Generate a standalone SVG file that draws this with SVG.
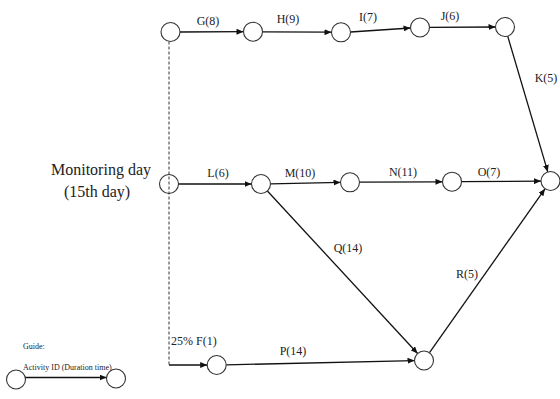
<svg xmlns="http://www.w3.org/2000/svg" width="560" height="399" viewBox="0 0 560 399">
<style>
.n{fill:#fff;stroke:#333;stroke-width:1.1}
.e{stroke:#111;stroke-width:1.3;fill:none;marker-end:url(#ah)}
.d{stroke:#333;stroke-width:1;stroke-dasharray:3 2;fill:none}
text{font-family:"Liberation Serif","Times New Roman",serif;fill:#222}
.l{font-size:12px;text-anchor:middle}
.m{font-size:16px;text-anchor:middle}
.g{font-size:8px}
</style>
<defs>
<marker id="ah" markerUnits="userSpaceOnUse" markerWidth="8" markerHeight="6" refX="7" refY="3" orient="auto">
<path d="M0,0 L7,3 L0,6 Z" fill="#111"/>
</marker>
</defs>
<rect width="560" height="399" fill="#fff"/>
<g id="connectors">
<line class="d" x1="169" y1="41.5" x2="169" y2="365"/>
<line class="e" x1="180" y1="32" x2="243.5" y2="31.7"/>
<line class="e" x1="262.5" y1="31.8" x2="331.5" y2="32.2"/>
<line class="e" x1="350.5" y1="32" x2="410.5" y2="28"/>
<line class="e" x1="429.5" y1="27.4" x2="495.5" y2="27"/>
<line class="e" x1="507.7" y1="36.1" x2="547.8" y2="171.9"/>
<line class="e" x1="178.5" y1="184" x2="251.5" y2="184"/>
<line class="e" x1="270.5" y1="183.8" x2="340.5" y2="182.4"/>
<line class="e" x1="359.5" y1="182.2" x2="442.5" y2="181.8"/>
<line class="e" x1="461.5" y1="181.6" x2="541" y2="181.1"/>
<line class="e" x1="267.4" y1="191" x2="417.6" y2="353.5"/>
<line class="e" x1="429.5" y1="352.7" x2="545" y2="188.8"/>
<line class="e" x1="169" y1="365" x2="207.2" y2="365"/>
<line class="e" x1="226.2" y1="364.9" x2="414.5" y2="360.6"/>
<line class="e" x1="24" y1="377.5" x2="106.5" y2="377.5"/>
</g>
<g id="n1"><circle class="n" cx="170.5" cy="32" r="9.5"/></g>
<g id="n2"><circle class="n" cx="253" cy="31.7" r="9.5"/></g>
<g id="n3"><circle class="n" cx="341" cy="32.3" r="9.5"/></g>
<g id="n4"><circle class="n" cx="420" cy="27.5" r="9.5"/></g>
<g id="n5"><circle class="n" cx="505" cy="27" r="9.5"/></g>
<g id="n6"><circle cx="169" cy="184" r="9.5" fill="none" stroke="#333" stroke-width="1.1"/></g>
<g id="n7"><circle class="n" cx="261" cy="184" r="9.5"/></g>
<g id="n8"><circle class="n" cx="350" cy="182.3" r="9.5"/></g>
<g id="n9"><circle class="n" cx="452" cy="181.7" r="9.5"/></g>
<g id="n10"><circle class="n" cx="550.5" cy="181" r="9.5"/></g>
<g id="n11"><circle class="n" cx="216.7" cy="365" r="9.5"/></g>
<g id="n12"><circle class="n" cx="424" cy="360.5" r="9.5"/></g>
<g id="labels">
<text class="l" x="208" y="25">G(8)</text>
<text class="l" x="288" y="22.5">H(9)</text>
<text class="l" x="368" y="21">I(7)</text>
<text class="l" x="450" y="19.5">J(6)</text>
<text class="l" x="546" y="82">K(5)</text>
<text class="l" x="218" y="177">L(6)</text>
<text class="l" x="300" y="177">M(10)</text>
<text class="l" x="403" y="176">N(11)</text>
<text class="l" x="489" y="176">O(7)</text>
<text class="l" x="348" y="252">Q(14)</text>
<text class="l" x="467" y="277.5">R(5)</text>
<text class="l" x="293" y="355">P(14)</text>
<text x="171" y="344.5" style="font-size:12px">25% F(1)</text>
</g>
<g id="monitoring">
<text class="m" x="101" y="175">Monitoring day</text>
<text class="m" x="97" y="197">(15th day)</text>
</g>
<g id="guide">
<text class="g" x="23" y="349">Guide:</text>
<text class="g" x="23" y="369.5">Activity ID (Duration time)</text>
<circle class="n" cx="16" cy="379.5" r="9.5"/>
<circle class="n" cx="116" cy="378.5" r="9.5"/>
</g>
</svg>
